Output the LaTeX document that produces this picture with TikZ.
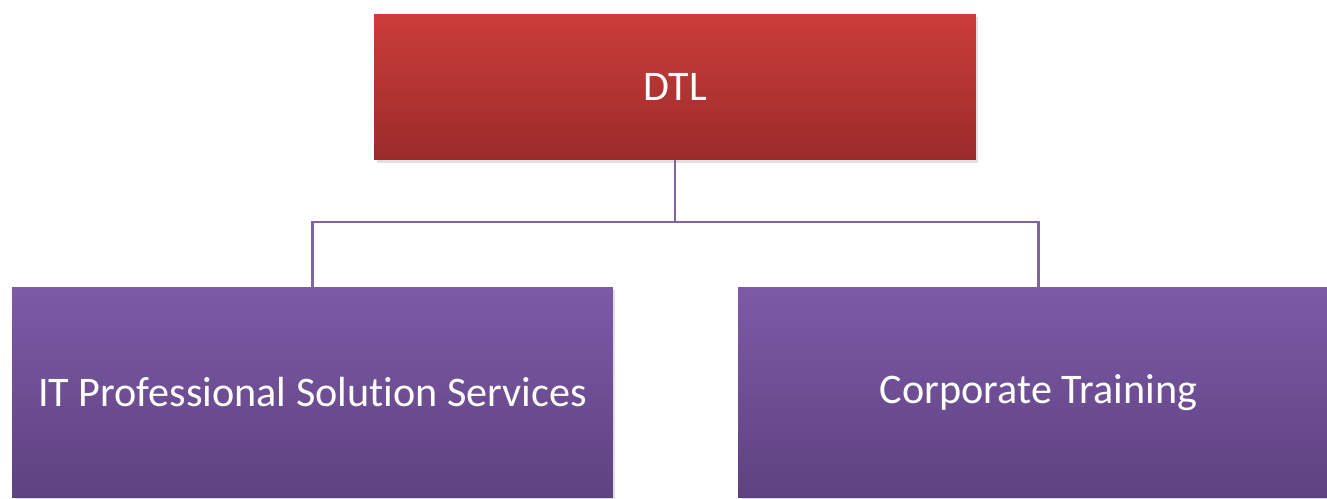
\documentclass[tikz,border=0pt]{standalone}
\usepackage{fontspec}
\setmainfont{Carlito}[Ligatures=NoCommon]
\usetikzlibrary{shadows}

\definecolor{redtop}{HTML}{CB3D3A}
\definecolor{redbot}{HTML}{9B2B2A}
\definecolor{purptop}{HTML}{7D5AA7}
\definecolor{purpbot}{HTML}{5E4280}
\definecolor{linkcol}{HTML}{8064A2}

\begin{document}
\begin{tikzpicture}[x=0.02cm, y=-0.02cm,
        unit/.style = {rectangle, inner sep=0pt, text=white, font=\fontsize{24}{28}\selectfont,
                drop shadow={shadow xshift=0.05cm, shadow yshift=-0.06cm, opacity=0.25}},
        head/.style = {unit, top color=redtop, bottom color=redbot, minimum width=12.04cm, minimum height=2.92cm},
        dept/.style = {unit, top color=purptop, bottom color=purpbot, minimum width=12.02cm, minimum height=4.22cm},
        link/.style = {draw=linkcol, line width=1.3pt}]
                \useasboundingbox (0,0) rectangle (1327,498);
                \fill[white] (0,0) rectangle (1327,498);

                \node[head] at (675, 87) (dtl) {DTL};
                \node[dept] at (312.5, 392.5) (its) {IT Professional Solution Services};
                \node[dept] at (1038.5, 392.5) (ct) {Corporate Training};

                \coordinate (bus) at (675, 222);

                \draw [link] (dtl) -- (bus);
                \draw [link] (bus) -| (its);
                \draw [link] (bus) -| (ct);
                \end{tikzpicture}
\end{document}
